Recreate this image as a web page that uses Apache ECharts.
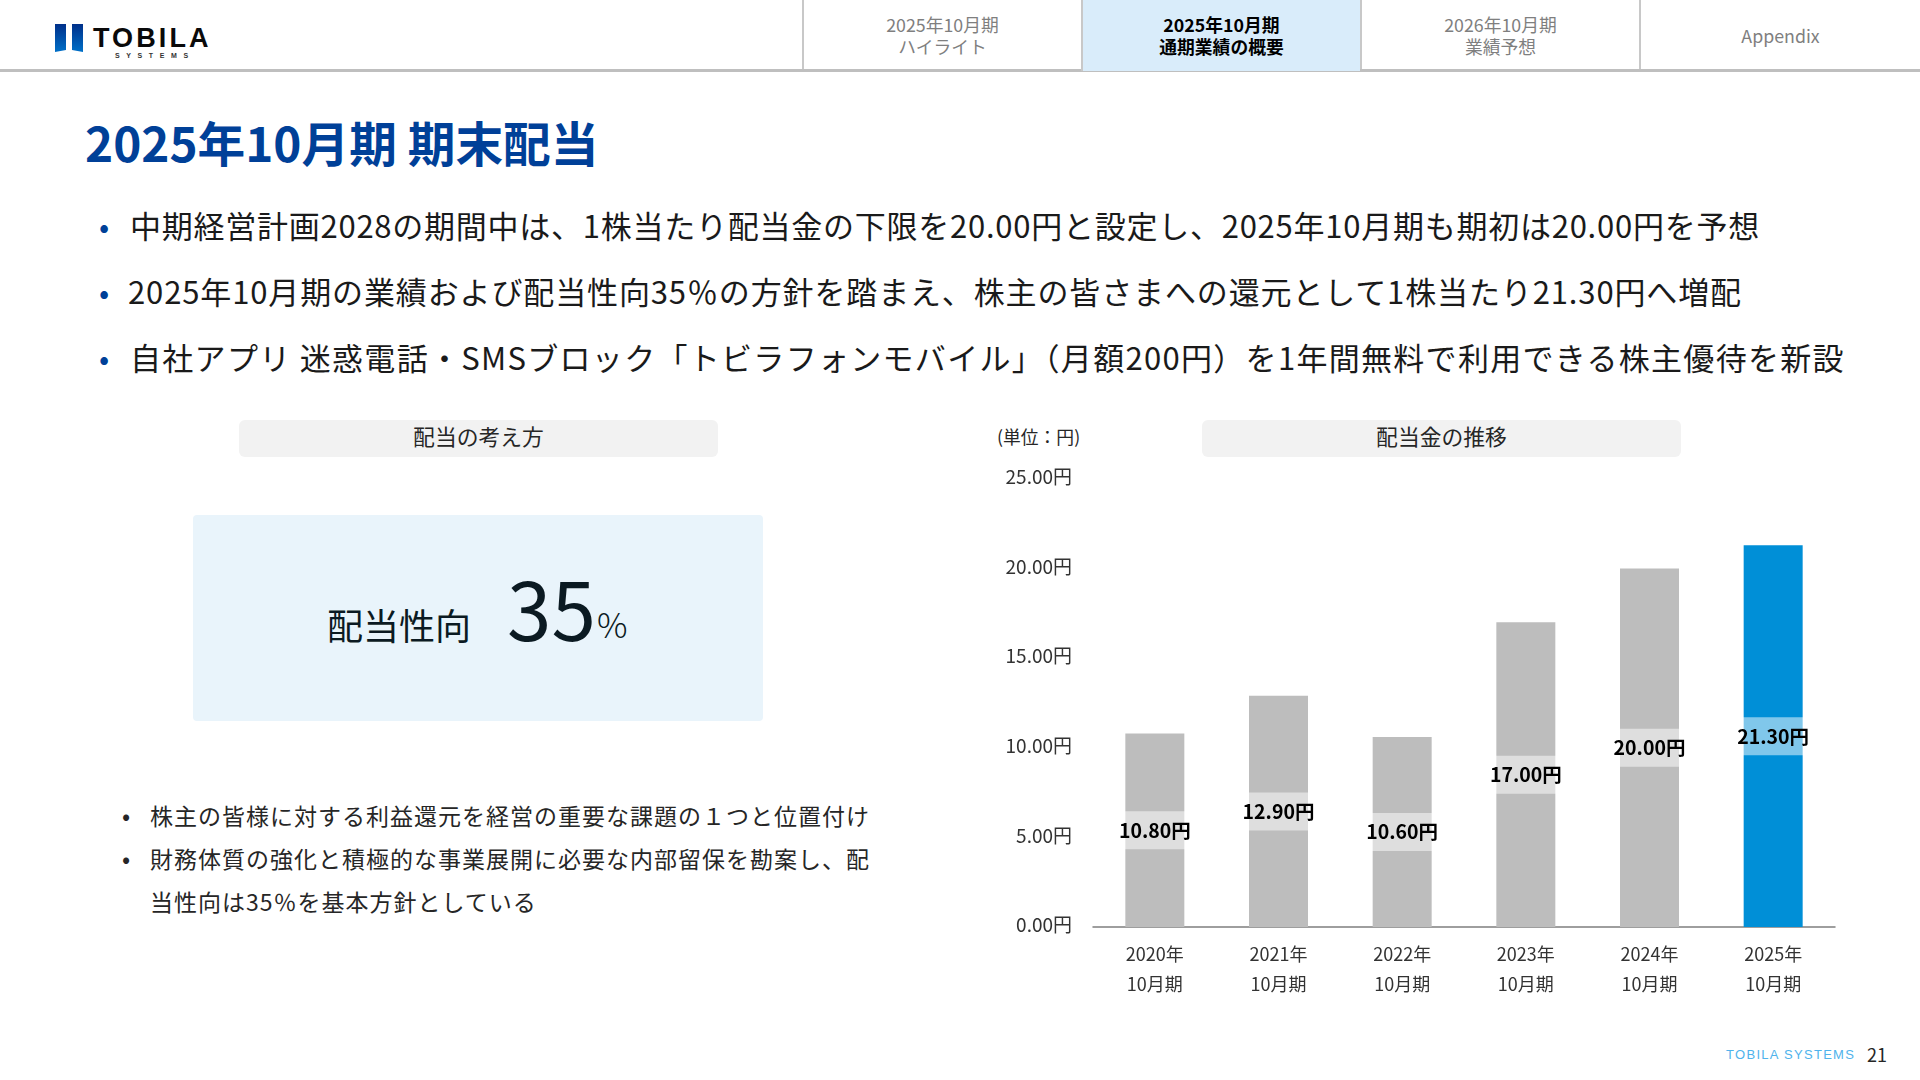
<!DOCTYPE html>
<html lang="ja">
<head>
<meta charset="utf-8">
<title>2025年10月期 期末配当</title>
<script src="https://cdn.jsdelivr.net/npm/echarts@6/dist/echarts.min.js"></script>
<style>
html,body{margin:0;padding:0;background:#fff;}
#page{position:relative;width:1920px;height:1080px;overflow:hidden;font-family:"Noto Sans CJK JP","Noto Sans",sans-serif;color:#1a1a1a;}
#page div{position:absolute;white-space:nowrap;}
#headLine{left:0;top:69px;width:1920px;height:3px;background:#bfbfbf;}
.tab{top:0;width:279px;height:69px;border-left:2px solid #c8c8c8;text-align:center;font-size:17.8px;line-height:22px;color:#7f7f7f;box-sizing:border-box;padding-top:13px;}
.tab.on{background:#d9ecfa;color:#000;font-weight:700;height:71px;}
#title{left:85px;top:107px;font-size:47.7px;font-weight:700;color:#004098;line-height:70px;}
.lead{left:130px;font-size:31px;line-height:44px;color:#1a1a1a;}
.dot{color:#004098;font-size:30px;line-height:44px;left:99px;}
.panelHead{top:420px;height:37px;width:479px;background:#f2f2f2;border-radius:6px;text-align:center;font-size:21.8px;line-height:31px;color:#262626;}
#ratioBox{left:193px;top:515px;width:570px;height:206px;background:#e9f4fb;border-radius:4px;}
.ratio{color:#0b1a22;line-height:1;}
.note{left:150px;font-size:23px;line-height:36px;letter-spacing:1px;color:#262626;}
.noteDot{left:122px;font-size:24px;line-height:36px;color:#262626;}
#chart{left:960px;top:430px;width:960px;height:610px;}
</style>
</head>
<body>
<div id="page">
  <div id="headLine"></div>
  <svg style="position:absolute;left:55px;top:24px" width="30" height="28">
    <defs><linearGradient id="lg" x1="0" y1="0" x2="0" y2="1"><stop offset="0" stop-color="#00308a"/><stop offset="1" stop-color="#0070c8"/></linearGradient></defs>
    <polygon points="0,0 11,0 11,26 0,28" fill="url(#lg)"/>
    <polygon points="17,0 28,0 28,28 17,26" fill="url(#lg)"/>
  </svg>
  <div style="left:93px;top:20px;font:700 27px/36px 'Liberation Sans',sans-serif;letter-spacing:3.1px;color:#0a0a0a;">TOBILA</div>
  <div style="left:115px;top:51px;font:700 7px/9px 'Liberation Sans',sans-serif;letter-spacing:6.6px;color:#333;">SYSTEMS</div>

  <div class="tab" style="left:802px">2025年10月期<br>ハイライト</div>
  <div class="tab on" style="left:1081px">2025年10月期<br>通期業績の概要</div>
  <div class="tab" style="left:1360px">2026年10月期<br>業績予想</div>
  <div class="tab" style="left:1639px;width:281px;padding-top:24px">Appendix</div>

  <div id="title">2025年10月期 期末配当</div>

  <div class="dot" style="top:203px">•</div>
  <div class="lead" style="top:203px;letter-spacing:.75px">中期経営計画2028の期間中は、1株当たり配当金の下限を20.00円と設定し、2025年10月期も期初は20.00円を予想</div>
  <div class="dot" style="top:269px">•</div>
  <div class="lead" style="top:269px;left:128px;letter-spacing:.87px">2025年10月期の業績および配当性向35％の方針を踏まえ、株主の皆さまへの還元として1株当たり21.30円へ増配</div>
  <div class="dot" style="top:335px">•</div>
  <div class="lead" style="top:335px;letter-spacing:1.3px">自社アプリ 迷惑電話・SMSブロック「トビラフォンモバイル」（月額200円）を1年間無料で利用できる株主優待を新設</div>

  <div class="panelHead" style="left:239px">配当の考え方</div>
  <div class="panelHead" style="left:1202px">配当金の推移</div>
  <div style="left:997px;top:424px;font-size:17.8px;line-height:24px;color:#262626;">(単位：円)</div>

  <div id="ratioBox"></div>
  <div class="ratio" style="left:327px;top:606px;font-size:36px;">配当性向</div>
  <div class="ratio" style="left:507px;top:566px;font-size:80px;font-weight:400;">35</div>
  <div class="ratio" style="left:597px;top:607px;font-size:34px;font-weight:300;">%</div>

  <div class="noteDot" style="top:797px">•</div>
  <div class="note" style="top:797px">株主の皆様に対する利益還元を経営の重要な課題の１つと位置付け</div>
  <div class="noteDot" style="top:840px">•</div>
  <div class="note" style="top:840px">財務体質の強化と積極的な事業展開に必要な内部留保を勘案し、配</div>
  <div class="note" style="top:883px">当性向は35％を基本方針としている</div>

  <div id="chart"></div>

  <div style="left:1726px;top:1046px;font:13px/18px 'Liberation Sans',sans-serif;letter-spacing:1.3px;color:#4fb3ec;">TOBILA SYSTEMS</div>
  <div style="left:1867px;top:1042px;font-size:18px;line-height:24px;color:#262626;">21</div>
</div>
<script>
var categories = ['2020年\n10月期', '2021年\n10月期', '2022年\n10月期', '2023年\n10月期', '2024年\n10月期', '2025年\n10月期'];
var dividends = [10.8, 12.9, 10.6, 17.0, 20.0, 21.3];
var highlightIndex = 5;

var barData = [];
for (var i = 0; i < dividends.length; i++) {
	barData.push({
		value: dividends[i],
		itemStyle: {color: i == highlightIndex ? '#008fd7' : '#bdbdbd'}
	});
}

var myChart = echarts.init(document.getElementById('chart'));
var font = '"Noto Sans CJK JP", sans-serif';
var option = {
	animation: false,
	grid: {left: 133, top: 49, width: 742, height: 448, containLabel: false},
	xAxis: {
		type: 'category',
		data: categories,
		axisTick: {show: false},
		axisLine: {lineStyle: {color: '#7f7f7f', width: 1.5}},
		axisLabel: {fontFamily: font, fontSize: 18, lineHeight: 30, color: '#333', margin: 12}
	},
	yAxis: {
		type: 'value',
		min: 0,
		max: 25,
		interval: 5,
		axisLine: {show: false},
		axisTick: {show: false},
		splitLine: {show: false},
		axisLabel: {
			margin: 21,
			formatter: function (v) { return '{v|' + v.toFixed(2) + '円}'; },
			rich: {
				// 底に余白を入れて文字を少し上げる
				v: {fontFamily: font, fontSize: 19, color: '#333', padding: [0, 0, 4, 0]}
			}
		}
	},
	series: [{
		type: 'bar',
		barWidth: 59,
		data: barData,
		label: {
			show: true,
			position: 'inside',
			fontFamily: font,
			fontSize: 19.5,
			fontWeight: 'bold',
			color: '#000',
			lineHeight: 24,
			backgroundColor: 'rgba(255,255,255,0.5)',
			padding: [4, 2, 10, 2],
			formatter: function (p) { return p.value.toFixed(2) + '円'; }
		}
	}]
};
myChart.setOption(option);
</script>
</body>
</html>
